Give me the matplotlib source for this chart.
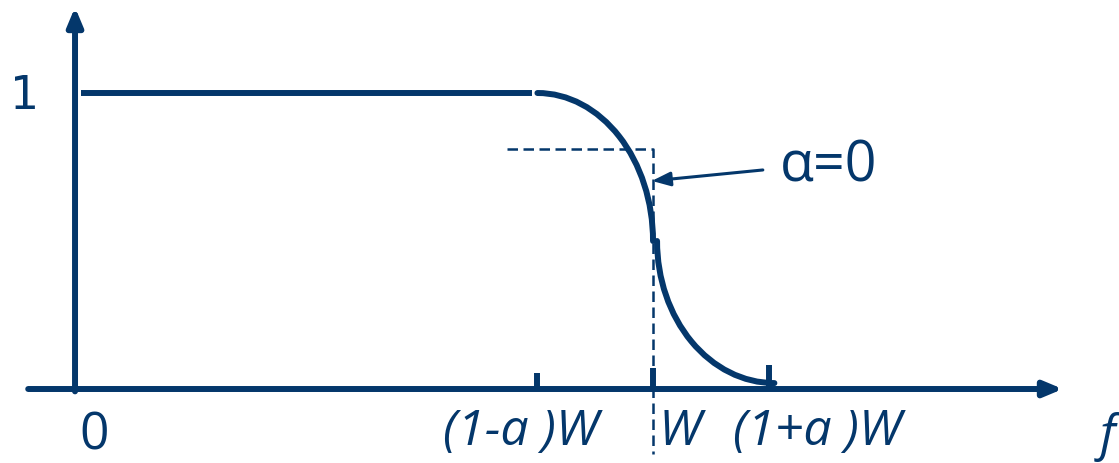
import matplotlib
matplotlib.use("Agg")
import matplotlib.pyplot as plt
from matplotlib.patches import Arc

# Raised-cosine style spectrum sketch, frequency in units of W
W = 1.0
rolloff = 0.2

tick_freqs = [(1 - rolloff) * W, W, (1 + rolloff) * W]
tick_heights = [0.054, 0.071, 0.081]
tick_labels = ["(1-a )W", "W", "(1+a )W"]

passband_f = [0.01, 0.79]
passband_h = [1.0, 1.0]

ideal_f = [0.747, 1.0, 1.0]
ideal_h = [0.811, 0.811, -0.22]

navy = "#04376B"
axis_lw = 4.3

fig = plt.figure(figsize=(11.19, 4.64), dpi=100)
ax = fig.add_axes([0, 0, 1, 1])
ax.set_xlim(-0.1298, 1.8062)
ax.set_ylim(-0.2500, 1.3176)
ax.axis("off")

# axes with arrow heads
arrow_style = "-|>,head_length=11.0,head_width=4.6"
ax.annotate("", xy=(1.709, 0.0), xytext=(-0.081, 0.0),
            arrowprops=dict(arrowstyle=arrow_style, lw=axis_lw, color=navy,
                            mutation_scale=1, shrinkA=0, shrinkB=0))
ax.annotate("", xy=(0.0, 1.290), xytext=(0.0, -0.008),
            arrowprops=dict(arrowstyle=arrow_style, lw=axis_lw, color=navy,
                            mutation_scale=1, shrinkA=0, shrinkB=0))

# tick marks on the frequency axis
ax.vlines(tick_freqs, 0, tick_heights, color=navy, lw=axis_lw)

# flat passband
ax.plot(passband_f, passband_h, color=navy, lw=axis_lw, solid_capstyle="butt")

# roll-off region drawn as two quarter ellipses
upper = Arc(((1 - rolloff) * W, 0.5), 2 * rolloff * W, 1.0,
            theta1=0, theta2=90, color=navy, lw=axis_lw, capstyle="round")
lower = Arc(((1 + rolloff) * W + 0.01, 0.5), 2 * rolloff * W + 0.006, 0.96,
            theta1=180, theta2=270, color=navy, lw=axis_lw, capstyle="round")
ax.add_patch(upper)
ax.add_patch(lower)

# ideal brick-wall reference (dashed)
ax.plot(ideal_f, ideal_h, color=navy, lw=1.8, linestyle=(0, (4.2, 2.2)))

# pointer to the alpha = 0 case
ax.annotate("", xy=(0.998, 0.703), xytext=(1.190, 0.740),
            arrowprops=dict(arrowstyle="-|>,head_length=11.0,head_width=4.2",
                            lw=2.2, color=navy, mutation_scale=1,
                            shrinkA=0, shrinkB=0))
ax.text(1.303, 0.755, "α=0", color=navy, fontsize=40, family="Open Sans",
        ha="center", va="center")

# labels
ax.text(-0.088, 0.993, "1", color=navy, fontsize=33, family="DejaVu Sans",
        ha="center", va="center")
ax.text(0.033, -0.155, "0", color=navy, fontsize=37, family="Open Sans",
        ha="center", va="center")
label_x = [0.772, 1.047, 1.285]
for x, lab in zip(label_x, tick_labels):
    ax.text(x, -0.143, lab, color=navy, fontsize=36, family="Open Sans",
            style="italic", ha="center", va="center")
ax.text(1.787, -0.160, "f", color=navy, fontsize=36, family="Open Sans",
        style="italic", ha="center", va="center")

fig.savefig("out.png", dpi=100)
